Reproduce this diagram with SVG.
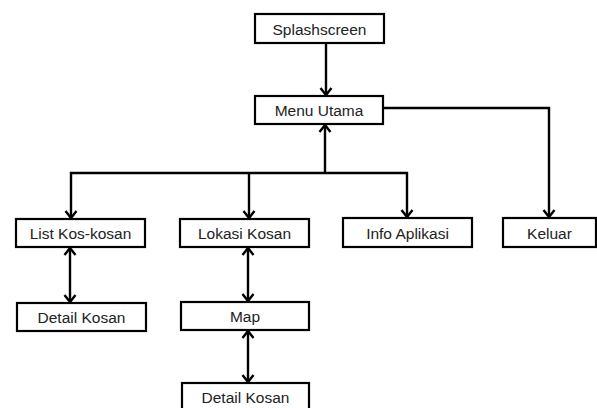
<svg xmlns="http://www.w3.org/2000/svg" width="597" height="408" viewBox="0 0 597 408">
<style>
.box{fill:#fff;stroke:#000;stroke-width:2.2}
.lbl{font-family:"Liberation Sans",Arial,sans-serif;font-size:15.5px;fill:#222;text-anchor:middle}
.con{fill:none;stroke:#000;stroke-width:2.4}
</style>
<defs>
<marker id="ah" markerUnits="userSpaceOnUse" markerWidth="16" markerHeight="16" viewBox="-8 -8 16 16" refX="0" refY="0" orient="auto-start-reverse">
<path d="M-7,-5.5 L0,0 L-7,5.5" fill="none" stroke="#000" stroke-width="2.4"/>
</marker>
</defs>
<rect width="597" height="408" fill="#fff"/>
<g id="connectors">
<path class="con" d="M326,43 V95" marker-end="url(#ah)"/>
<path class="con" d="M325,173 V125" marker-end="url(#ah)"/>
<path class="con" d="M71,218 V173 H407 V217" marker-start="url(#ah)" marker-end="url(#ah)"/>
<path class="con" d="M249,173 V218" marker-end="url(#ah)"/>
<path class="con" d="M383,108 H549 V217" marker-end="url(#ah)"/>
<path class="con" d="M70,248 V302" marker-start="url(#ah)" marker-end="url(#ah)"/>
<path class="con" d="M248,248 V301" marker-start="url(#ah)" marker-end="url(#ah)"/>
<path class="con" d="M248,331 V382" marker-start="url(#ah)" marker-end="url(#ah)"/>
</g>
<g id="splashscreen"><rect class="box" x="255" y="14" width="129" height="29"/><text class="lbl" x="319.5" y="34.5">Splashscreen</text></g>
<g id="menu-utama"><rect class="box" x="255" y="96" width="128" height="28"/><text class="lbl" x="319" y="115.5">Menu Utama</text></g>
<g id="list-kos-kosan"><rect class="box" x="16" y="219" width="129" height="28"/><text class="lbl" x="80.5" y="238.5">List Kos-kosan</text></g>
<g id="lokasi-kosan"><rect class="box" x="180" y="219" width="129" height="28"/><text class="lbl" x="244.5" y="238.5">Lokasi Kosan</text></g>
<g id="info-aplikasi"><rect class="box" x="343" y="218" width="129" height="29"/><text class="lbl" x="407.5" y="238.5">Info Aplikasi</text></g>
<g id="keluar"><rect class="box" x="503" y="218" width="93" height="29"/><text class="lbl" x="549.5" y="238.5">Keluar</text></g>
<g id="detail-kosan-1"><rect class="box" x="17" y="303" width="129" height="28"/><text class="lbl" x="81.5" y="322.5">Detail Kosan</text></g>
<g id="map"><rect class="box" x="181" y="302" width="128" height="28"/><text class="lbl" x="245" y="321.5">Map</text></g>
<g id="detail-kosan-2"><rect class="box" x="182" y="383" width="127" height="28"/><text class="lbl" x="245.5" y="402.5">Detail Kosan</text></g>
</svg>
